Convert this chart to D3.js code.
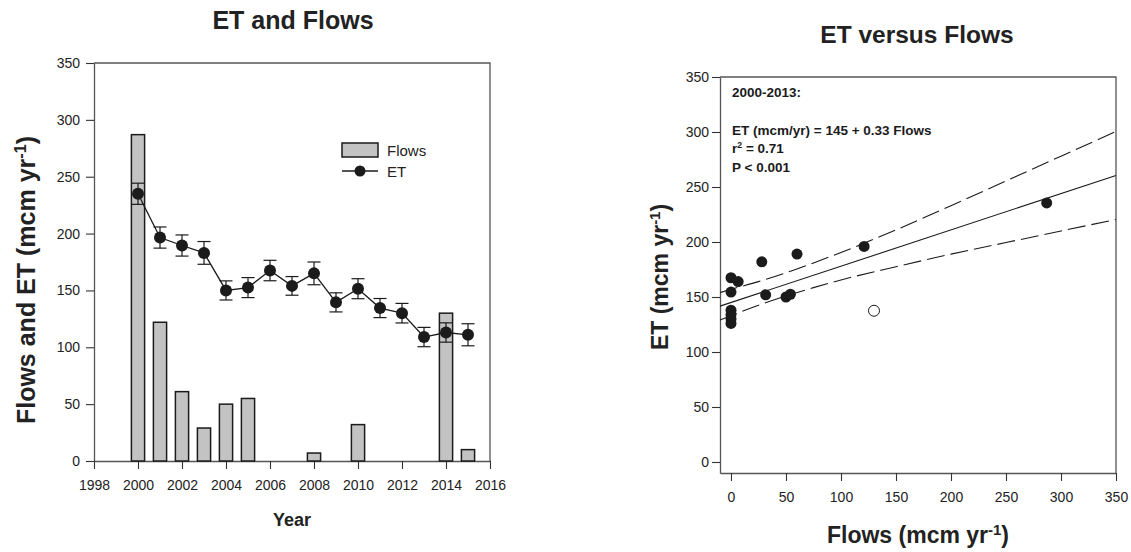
<!DOCTYPE html>
<html>
<head>
<meta charset="utf-8">
<script src="https://cdn.jsdelivr.net/npm/d3@7"></script>
<style>
  html, body { margin: 0; padding: 0; background: #fff; }
  svg { display: block; font-family: "Liberation Sans", Arial, sans-serif; }
</style>
</head>
<body>
<svg id="chart" width="1131" height="552"></svg>
<script>
// ---- Annual series (mcm per year) ----
const years = [2000, 2001, 2002, 2003, 2004, 2005, 2006, 2007, 2008, 2009, 2010, 2011, 2012, 2013, 2014, 2015];
const flows = [287, 122, 61, 29, 50, 55, 0, 0, 7, 0, 32, 0, 0, 0, 130, 10];
const et    = [235, 196.5, 189.5, 183, 150, 152.5, 167.5, 154, 165, 139.5, 151.5, 134.5, 130, 109, 113, 111];
const etSE  = [9.3, 9.3, 9.3, 10, 8.4, 8.8, 9, 8.2, 10, 8.4, 8.8, 8.4, 8.6, 8.5, 8.5, 9.7];

// ---- ET vs Flows, 2000-2013 (filled) and 2014 (open) ----
const scatterFlows = [287, 121, 60, 28, 50, 54, 0, 0, 6.5, 0, 31.5, 0, 0, 0];
const scatterET    = [235.5, 196, 189, 182, 150, 152.5, 167.5, 154.5, 164, 138, 152, 134, 130, 126];
const openFlows = [130];
const openET    = [137.5];

// Fitted line ET = 145 + 0.33 Flows and its 95% band
const fitIntercept = 145;
const fitSlope = 0.33;
const bandX     = [-10, 0, 25, 50, 75, 100, 150, 200, 250, 300, 350];
const bandUpper = [154, 157, 164, 172, 181, 190.5, 211, 233, 255.5, 278, 300.5];
const bandLower = [129, 133, 142.5, 151, 158.5, 165.5, 177.5, 189, 199.5, 210, 220.5];

// ---- Tick labels ----
const yearTicks = [1998, 2000, 2002, 2004, 2006, 2008, 2010, 2012, 2014, 2016];
const valueTicks = [0, 50, 100, 150, 200, 250, 300, 350];
const flowTicks = [0, 50, 100, 150, 200, 250, 300, 350];

const svg = d3.select("#chart");
const axisColor = "#555";
const inkColor = "#1b1b1b";
const barFill = "#c3c3c3";

function styleAxis(g) {
  g.selectAll("path.domain").attr("stroke", axisColor).attr("stroke-width", 1.3);
  g.selectAll(".tick line").attr("stroke", "#333").attr("stroke-width", 1.1);
  g.selectAll(".tick text").attr("fill", "#222").style("font-size", "14px")
    .style("font-family", '"Liberation Sans", Arial, sans-serif');
}

function labelWithSup(sel, main, sup, tail) {
  sel.append("tspan").text(main);
  sel.append("tspan").text(sup).attr("baseline-shift", "super").style("font-size", "65%");
  sel.append("tspan").text(tail);
}

// ================= Left panel: ET and Flows by year =================
const xL = d3.scaleLinear().domain([1998, 2016]).range([94, 490]);
const yL = d3.scaleLinear().domain([0, 350]).range([461, 63]);
const barYears = 0.6;

const left = svg.append("g");

// frame (top and right)
left.append("path")
  .attr("d", `M${xL(1998)},${yL(350)}H${xL(2016)}V${yL(0)}`)
  .attr("fill", "none").attr("stroke", axisColor).attr("stroke-width", 1.3);

left.append("g").attr("transform", `translate(0,${yL(0)})`)
  .call(d3.axisBottom(xL).tickValues(yearTicks).tickFormat(d3.format("d")).tickSize(8).tickSizeOuter(0).tickPadding(11))
  .call(styleAxis);
left.append("g").attr("transform", `translate(${xL(1998)},0)`)
  .call(d3.axisLeft(yL).tickValues(valueTicks).tickSize(8).tickSizeOuter(0).tickPadding(6))
  .call(styleAxis);

// flow bars
const barData = years.map((yr, i) => ({ yr, v: flows[i] })).filter(d => d.v > 0);
left.append("g").selectAll("rect").data(barData).join("rect")
  .attr("x", d => xL(d.yr - barYears / 2))
  .attr("width", d => xL(d.yr + barYears / 2) - xL(d.yr - barYears / 2))
  .attr("y", d => yL(d.v))
  .attr("height", d => yL(0) - yL(d.v))
  .attr("fill", barFill).attr("stroke", inkColor).attr("stroke-width", 1.5);

// ET with error bars
const etData = years.map((yr, i) => ({ yr, v: et[i], se: etSE[i] }));
const cap = 6.5;
const eb = left.append("g").attr("stroke", inkColor).attr("stroke-width", 1.2);
etData.forEach(d => {
  const cx = xL(d.yr);
  eb.append("line").attr("x1", cx).attr("x2", cx).attr("y1", yL(d.v - d.se)).attr("y2", yL(d.v + d.se));
  eb.append("line").attr("x1", cx - cap).attr("x2", cx + cap).attr("y1", yL(d.v + d.se)).attr("y2", yL(d.v + d.se));
  eb.append("line").attr("x1", cx - cap).attr("x2", cx + cap).attr("y1", yL(d.v - d.se)).attr("y2", yL(d.v - d.se));
});
left.append("path").datum(etData)
  .attr("d", d3.line().x(d => xL(d.yr)).y(d => yL(d.v)))
  .attr("fill", "none").attr("stroke", inkColor).attr("stroke-width", 1.3);
left.append("g").selectAll("circle").data(etData).join("circle")
  .attr("cx", d => xL(d.yr)).attr("cy", d => yL(d.v)).attr("r", 6)
  .attr("fill", inkColor);

// legend
const lg = left.append("g");
lg.append("rect").attr("x", 342).attr("y", 143).attr("width", 36).attr("height", 14)
  .attr("fill", barFill).attr("stroke", inkColor).attr("stroke-width", 1.5);
lg.append("text").attr("x", 387).attr("y", 156).text("Flows").style("font-size", "15px").attr("fill", "#222");
lg.append("line").attr("x1", 342).attr("x2", 378).attr("y1", 171).attr("y2", 171)
  .attr("stroke", inkColor).attr("stroke-width", 1.3);
lg.append("circle").attr("cx", 360).attr("cy", 171).attr("r", 5.5).attr("fill", inkColor);
lg.append("text").attr("x", 387).attr("y", 177).text("ET").style("font-size", "15px").attr("fill", "#222");

// titles and axis labels
left.append("text").attr("x", 293).attr("y", 29).attr("text-anchor", "middle")
  .style("font-size", "25px").style("font-weight", "bold").attr("fill", "#222").text("ET and Flows");
left.append("text").attr("x", 292).attr("y", 526).attr("text-anchor", "middle")
  .style("font-size", "18px").style("font-weight", "bold").attr("fill", "#222").text("Year");
labelWithSup(
  left.append("text").attr("transform", "translate(35,280) rotate(-90)").attr("text-anchor", "middle")
    .style("font-size", "25px").style("font-weight", "bold").attr("fill", "#222"),
  "Flows and ET (mcm yr", "-1", ")");

// ================= Right panel: ET versus Flows =================
const xR = d3.scaleLinear().domain([-10, 350]).range([720, 1116]);
const yR = d3.scaleLinear().domain([-10, 350]).range([473, 77]);

const right = svg.append("g");
right.append("path")
  .attr("d", `M${xR(-10)},${yR(350)}H${xR(350)}V${yR(-10)}`)
  .attr("fill", "none").attr("stroke", axisColor).attr("stroke-width", 1.3);

right.append("g").attr("transform", `translate(0,${yR(-10)})`)
  .call(d3.axisBottom(xR).tickValues(flowTicks).tickSize(8).tickSizeOuter(0).tickPadding(11))
  .call(styleAxis);
right.append("g").attr("transform", `translate(${xR(-10)},0)`)
  .call(d3.axisLeft(yR).tickValues(valueTicks).tickSize(8).tickSizeOuter(0).tickPadding(3))
  .call(styleAxis);

const plotR = right.append("g");
// regression line across the full flow range
const fitX = [-10, 350];
plotR.append("path").datum(fitX)
  .attr("d", d3.line().x(d => xR(d)).y(d => yR(fitIntercept + fitSlope * d)))
  .attr("fill", "none").attr("stroke", inkColor).attr("stroke-width", 1.1);
// confidence band
[bandUpper, bandLower].forEach(arr => {
  plotR.append("path").datum(bandX.map((x, i) => [x, arr[i]]))
    .attr("d", d3.line().x(d => xR(d[0])).y(d => yR(d[1])).curve(d3.curveMonotoneX))
    .attr("fill", "none").attr("stroke", inkColor).attr("stroke-width", 1.1)
    .attr("stroke-dasharray", "18,6");
});
// points
plotR.append("g").selectAll("circle").data(scatterFlows.map((f, i) => [f, scatterET[i]])).join("circle")
  .attr("cx", d => xR(d[0])).attr("cy", d => yR(d[1])).attr("r", 5.5).attr("fill", inkColor);
plotR.append("g").selectAll("circle").data(openFlows.map((f, i) => [f, openET[i]])).join("circle")
  .attr("cx", d => xR(d[0])).attr("cy", d => yR(d[1])).attr("r", 5.5)
  .attr("fill", "#fff").attr("stroke", inkColor).attr("stroke-width", 1);

// fit annotation
const ann = right.append("g").style("font-size", "13.5px").style("font-weight", "bold").attr("fill", "#1b1b1b");
ann.append("text").attr("x", 732).attr("y", 97).text("2000-2013:");
ann.append("text").attr("x", 732).attr("y", 135).text(`ET (mcm/yr) = ${fitIntercept} + ${fitSlope} Flows`);
labelWithSup(ann.append("text").attr("x", 732).attr("y", 153), "r", "2", " = 0.71");
ann.append("text").attr("x", 732).attr("y", 172).text("P < 0.001");

// titles and axis labels
right.append("text").attr("x", 917).attr("y", 43).attr("text-anchor", "middle")
  .style("font-size", "24.5px").style("font-weight", "bold").attr("fill", "#222").text("ET versus Flows");
labelWithSup(
  right.append("text").attr("x", 918).attr("y", 543).attr("text-anchor", "middle")
    .style("font-size", "23px").style("font-weight", "bold").attr("fill", "#222"),
  "Flows (mcm yr", "-1", ")");
labelWithSup(
  right.append("text").attr("transform", "translate(668,277) rotate(-90)").attr("text-anchor", "middle")
    .style("font-size", "23px").style("font-weight", "bold").attr("fill", "#222"),
  "ET (mcm yr", "-1", ")");
</script>
</body>
</html>
